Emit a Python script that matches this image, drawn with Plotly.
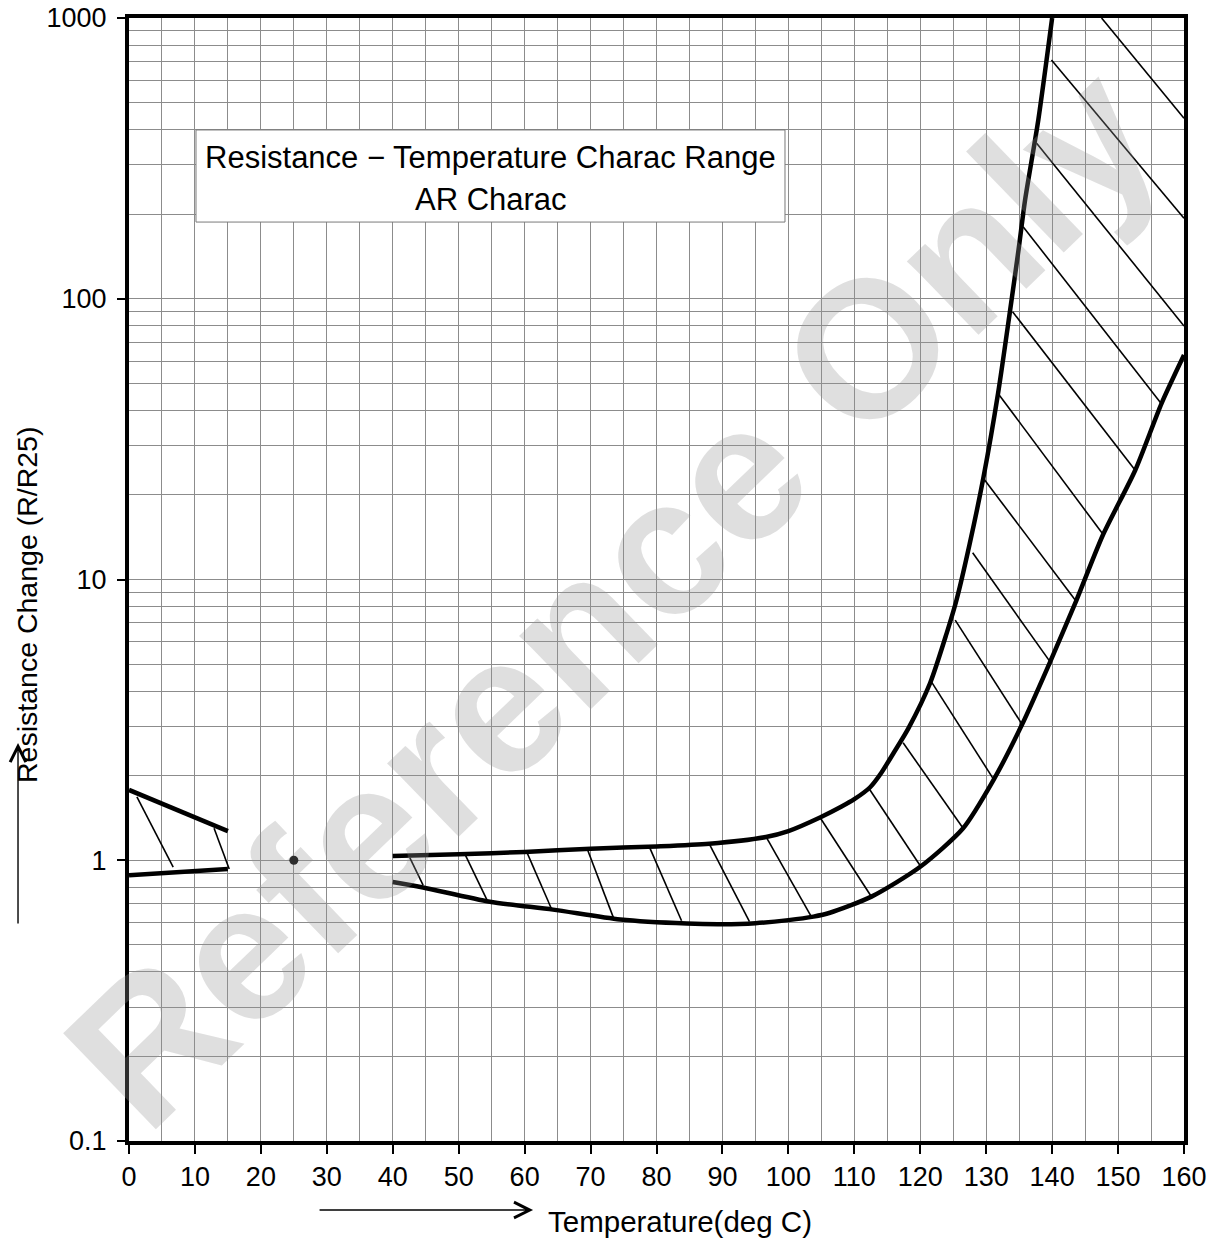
import plotly.graph_objects as go

# ---------------- data ----------------
# Low-temperature range (0-15 deg C)
low_T = [0, 15]
low_upper_R = [1.78, 1.27]
low_lower_R = [0.885, 0.93]
low_hatch_T0 = [1.2, 12.9]
low_hatch_R0 = [1.68, 1.30]
low_hatch_T1 = [6.7, 15.2]
low_hatch_R1 = [0.946, 0.931]

# Reference point (25 deg C, R/R25 = 1)
ref_T = [25]
ref_R = [1]

# Main range upper boundary
upper_T = [40, 50, 60, 70, 80, 88, 96.6, 100, 104.8, 108, 110, 112.4, 114.1, 116, 118.2,
           121.5, 124, 125.5, 127.5, 129.6, 131.8, 133.6, 134.9, 135.9, 137.9, 140]
upper_R = [1.035, 1.05, 1.07, 1.10, 1.12, 1.145, 1.21, 1.27, 1.42, 1.55, 1.65, 1.82, 2.05, 2.42, 2.95,
           4.28, 6.43, 8.45, 13.4, 23.2, 46, 90, 149, 225, 433, 1000]

# Main range lower boundary
lower_T = [40, 44.6, 54.7, 64.3, 74.5, 84.6, 90, 95, 100, 103.8, 106.3, 112.6, 120,
           126.5, 131.1, 135.4, 139.7, 143.7, 147.7, 152.6, 156.6, 160]
lower_R = [0.837, 0.80, 0.712, 0.667, 0.615, 0.595, 0.592, 0.597, 0.612, 0.63, 0.65, 0.742, 0.948,
           1.30, 1.93, 3.03, 5.09, 8.45, 14.4, 24.5, 42.4, 63]

# Hatch lines of the main range (start -> end)
hatch_T0 = [42.6, 51.0, 60.3, 69.4, 78.9, 88.0, 96.6, 104.8, 112.3, 117.4, 121.7, 125.3,
            127.95, 129.6, 131.8, 134.0, 135.6, 137.65, 139.9, 147.5]
hatch_R0 = [1.02, 1.045, 1.073, 1.112, 1.118, 1.143, 1.213, 1.42, 1.79, 2.62, 4.32, 7.17,
            12.45, 22.9, 46.0, 89.9, 180.6, 358, 709, 1000]
hatch_T1 = [44.6, 54.25, 64.1, 73.45, 83.8, 94.1, 103.5, 112.6, 120.1, 126.5, 131.2, 135.4,
            139.7, 143.5, 147.8, 152.6, 156.6, 160, 160, 160]
hatch_R1 = [0.816, 0.726, 0.669, 0.626, 0.609, 0.604, 0.629, 0.741, 0.948, 1.30, 1.93, 3.06,
            5.09, 8.45, 14.4, 24.5, 42.2, 80, 193.5, 439.5]

# Axis ticks
x_ticks = list(range(0, 161, 10))
x_minor = list(range(0, 161, 5))
y_ticks = [0.1, 1, 10, 100, 1000]
y_tick_labels = ["0.1", "1", "10", "100", "1000"]
y_minor = [m * d for d in [0.1, 1, 10, 100] for m in range(1, 10)] + [1000]

box_line1 = "Resistance − Temperature Charac Range"
box_line2 = "AR Charac"
x_title = "Temperature(deg C)"
y_title = "Resistance Change (R/R25)"
watermark = "Reference Only"


def segments(t0, r0, t1, r1):
    xs, ys = [], []
    for a, b, c, d in zip(t0, r0, t1, r1):
        xs += [a, c, None]
        ys += [b, d, None]
    return xs, ys


FONT = "Liberation Sans, Arial, sans-serif"
fig = go.Figure()

thick = dict(color="black", width=4.5)
thin = dict(color="black", width=1.6)

# low range
fig.add_trace(go.Scatter(x=low_T, y=low_upper_R, mode="lines", line=thick))
fig.add_trace(go.Scatter(x=low_T, y=low_lower_R, mode="lines", line=thick))
hx, hy = segments(low_hatch_T0, low_hatch_R0, low_hatch_T1, low_hatch_R1)
fig.add_trace(go.Scatter(x=hx, y=hy, mode="lines", line=thin))

# reference point
fig.add_trace(go.Scatter(x=ref_T, y=ref_R, mode="markers",
                         marker=dict(color="black", size=9)))

# main range
hx, hy = segments(hatch_T0, hatch_R0, hatch_T1, hatch_R1)
fig.add_trace(go.Scatter(x=hx, y=hy, mode="lines", line=thin))
fig.add_trace(go.Scatter(x=upper_T, y=upper_R, mode="lines",
                         line=dict(color="black", width=4.5, shape="spline", smoothing=0.7)))
fig.add_trace(go.Scatter(x=lower_T, y=lower_R, mode="lines",
                         line=dict(color="black", width=4.5, shape="spline", smoothing=0.7)))

GRID = "#8c8c8c"
fig.update_xaxes(
    range=[0, 160], tickmode="array", tickvals=x_ticks,
    ticks="outside", ticklen=9, tickwidth=2, tickcolor="black",
    showgrid=True, gridcolor=GRID, gridwidth=1,
    minor=dict(tickmode="array", tickvals=x_minor, showgrid=True, gridcolor=GRID,
               gridwidth=1, ticks=""),
    showline=True, linewidth=4, linecolor="black", mirror=True,
    tickfont=dict(family=FONT, size=27, color="black"),
    ticklabeloverflow="allow",
    zeroline=False, fixedrange=True, automargin=False,
)
fig.update_yaxes(
    type="log", range=[-1, 3], tickmode="array", tickvals=y_ticks, ticktext=y_tick_labels,
    ticks="outside", ticklen=8, tickwidth=2, tickcolor="black",
    showgrid=True, gridcolor=GRID, gridwidth=1,
    minor=dict(tickmode="array", tickvals=y_minor, showgrid=True, gridcolor=GRID,
               gridwidth=1, ticks=""),
    showline=True, linewidth=4, linecolor="black", mirror=True,
    tickfont=dict(family=FONT, size=27, color="black"),
    ticklabelstandoff=5, ticklabeloverflow="allow",
    zeroline=False, fixedrange=True, automargin=False,
)

# legend-like text box
fig.add_shape(type="rect", xref="paper", yref="paper",
              x0=0.0635, x1=0.6218, y0=0.8183, y1=0.9003,
              fillcolor="white", line=dict(color="#7a7a7a", width=1), layer="above")
fig.add_annotation(xref="paper", yref="paper", x=0.3427, y=0.8758, text=box_line1,
                   showarrow=False, xanchor="center", yanchor="middle",
                   font=dict(family=FONT, size=31, color="black"))
fig.add_annotation(xref="paper", yref="paper", x=0.3427, y=0.8384, text=box_line2,
                   showarrow=False, xanchor="center", yanchor="middle",
                   font=dict(family=FONT, size=31, color="black"))

# axis titles with arrows
fig.add_annotation(xref="paper", yref="paper", x=0.3953, y=-0.0721, text=x_title,
                   showarrow=False, xanchor="left", yanchor="middle",
                   font=dict(family=FONT, size=29.5, color="black"))
fig.add_annotation(xref="paper", yref="paper", x=0.383, y=-0.0615, text="",
                   showarrow=True, ax=-215, ay=0, arrowhead=5, arrowsize=2.2,
                   arrowwidth=1.4, arrowcolor="black", standoff=0, startstandoff=0)
fig.add_annotation(xref="paper", yref="paper", x=-0.0967, y=0.4773, text=y_title,
                   textangle=-90, showarrow=False, xanchor="center", yanchor="middle",
                   font=dict(family=FONT, size=28.5, color="black"))
fig.add_annotation(xref="paper", yref="paper", x=-0.1052, y=0.3544, text="",
                   showarrow=True, ax=0, ay=182, arrowhead=5, arrowsize=2.2,
                   arrowwidth=1.4, arrowcolor="black", standoff=0, startstandoff=0)

# watermark (sized to stay inside the page)
fig.add_annotation(xref="paper", yref="paper", x=0.4573, y=0.4858, text="<b>" + watermark + "</b>",
                   textangle=-44, showarrow=False, xanchor="center", yanchor="middle",
                   font=dict(family=FONT, size=194, color="rgba(150,150,150,0.30)"))

fig.update_layout(
    width=1223, height=1241,
    margin=dict(l=129, r=39, t=18, b=100, autoexpand=False),
    paper_bgcolor="white", plot_bgcolor="white",
    showlegend=False,
)

fig.write_html("out.html", config={"displayModeBar": False, "staticPlot": True},
               post_script="document.body.style.margin='0';")
